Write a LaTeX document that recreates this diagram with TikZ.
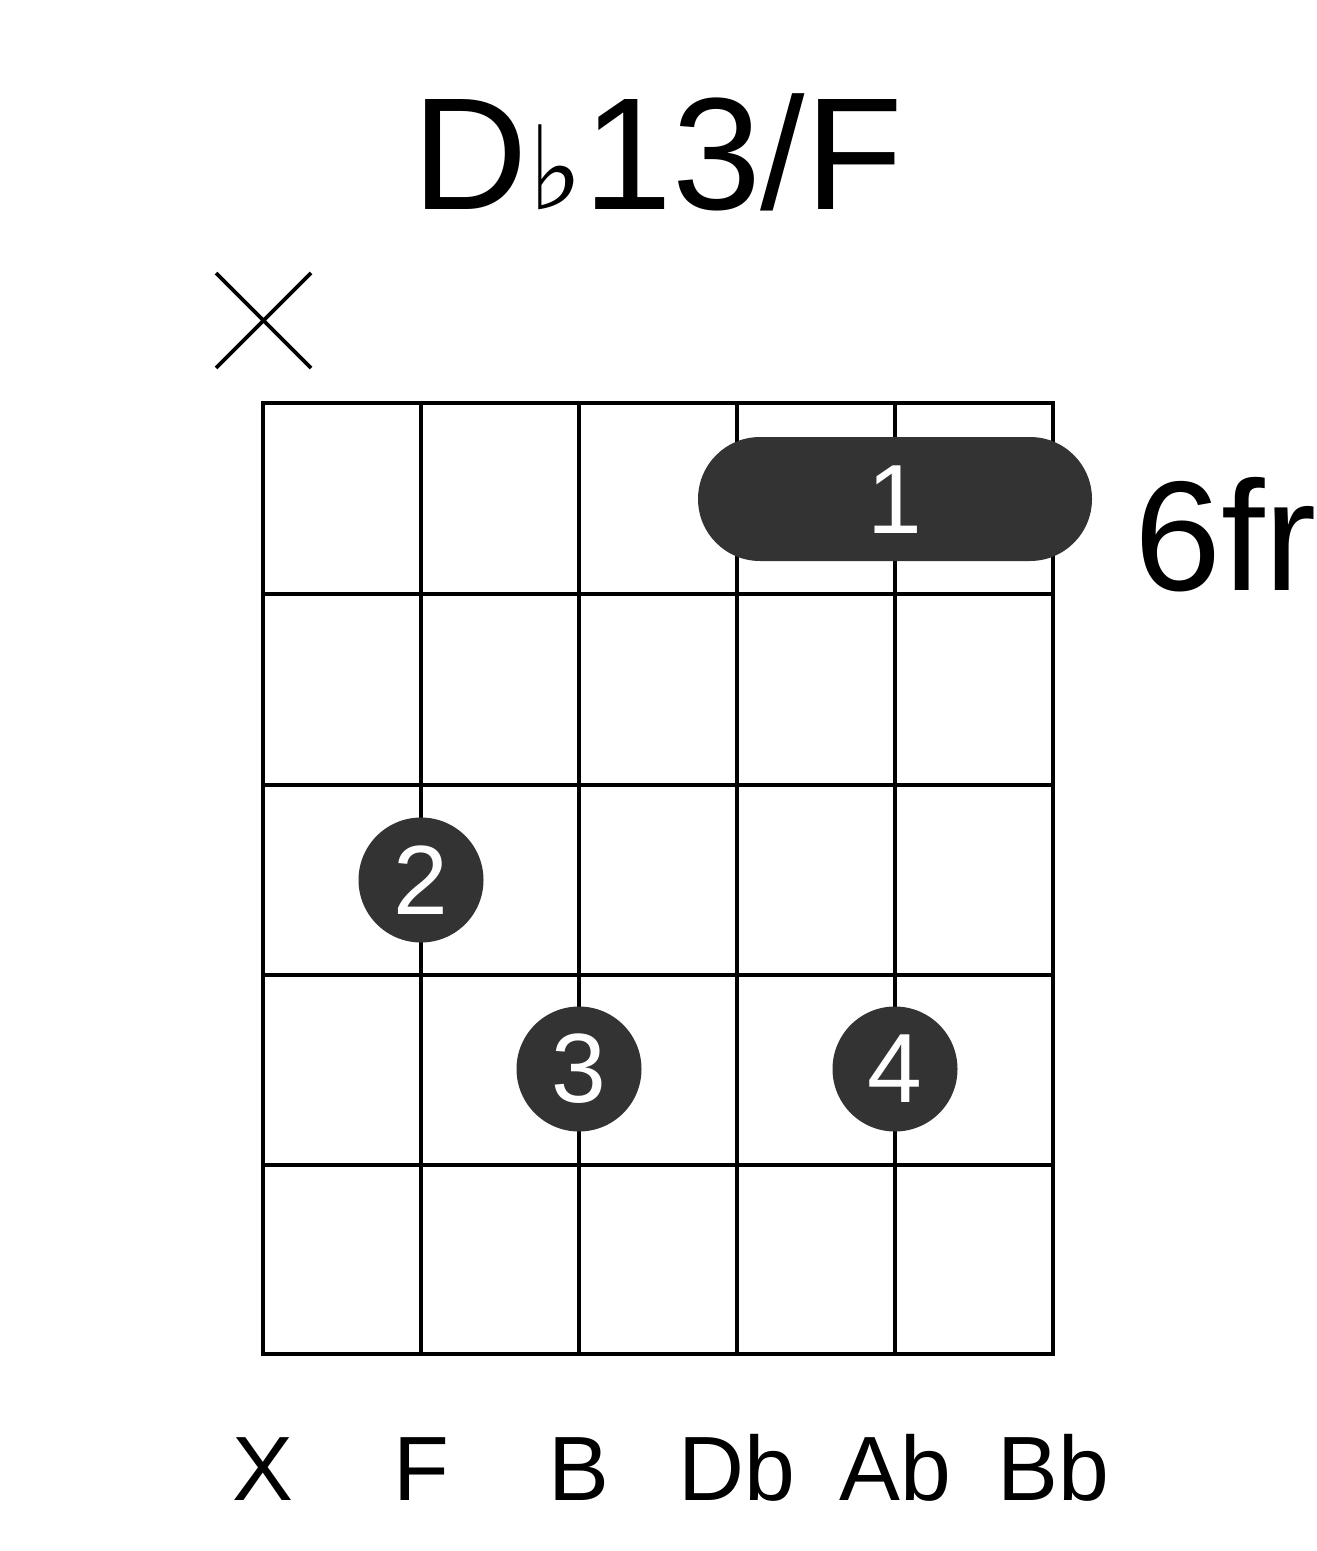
\documentclass[tikz,border=0pt]{standalone}
\usepackage{fontspec}
\setmainfont{Liberation Sans}
\newfontfamily\symfont{DejaVu Sans}
\definecolor{dotgray}{RGB}{51,51,51}
\begin{document}
\begin{tikzpicture}[
  x=0.02cm,y=-0.02cm,
  grid/.style={line width=4pt*0.569, line cap=rect},
  finger/.style={circle, fill=dotgray, minimum size=125*0.02cm, inner sep=0pt,
    text=white, font=\fontsize{56}{60}\selectfont},
  strname/.style={font=\fontsize{52}{56}\selectfont, anchor=base}
]
\useasboundingbox (0,0) rectangle (1317,1551);

% ---- title ----
\node[anchor=base] (title) at (658,210) {\fontsize{91}{100}\selectfont D{\symfont\fontsize{66}{70}\selectfont ♭}13/F};

% ---- grid ----
\foreach \x in {263,421,579,737,895,1053}
  \draw[grid] (\x,403) -- (\x,1354);
\foreach \y in {403,594,785,975,1165,1354}
  \draw[grid] (263,\y) -- (1053,\y);

% ---- muted string ----
\coordinate (m1) at (216,273);
\coordinate (m2) at (311,368);
\draw[line width=2.2pt] (m1) -- (m2) (m1 |- m2) -- (m2 |- m1);

% ---- barre ----
\draw[fill=dotgray, draw=none, rounded corners=62*0.02cm] (698,437) rectangle (1092,561);
\node[text=white, font=\fontsize{56}{60}\selectfont] (f1) at (895,500) {1};
\node[anchor=base west, font=\fontsize{89}{95}\selectfont] (fr) at (1128,590) {6fr};

% ---- fingers ----
\node[finger] (f2) at (421,880) {2};
\node[finger] (f3) at (579,1069) {3};
\node[finger] (f4) at (895,1069) {4};

% ---- string names ----
\foreach \x/\n in {263/X,421/F,579/B,737/Db,895/Ab,1053/Bb}
  \node[strname] at (\x,1500) {\n};
\end{tikzpicture}
\end{document}
